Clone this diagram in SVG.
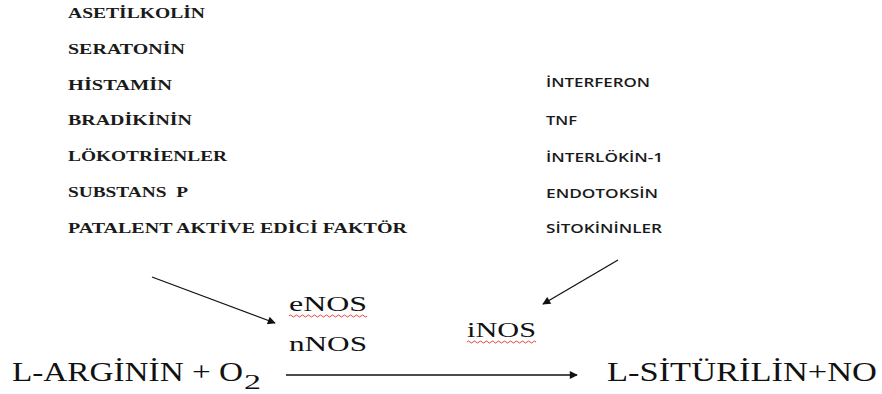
<svg xmlns="http://www.w3.org/2000/svg" width="882" height="394" viewBox="0 0 882 394">
<style>
.l{font-family:'Liberation Serif',serif;font-size:15px;font-weight:bold;fill:#1a1a1a}
.r{font-family:'Open Sans',sans-serif;font-size:12px;font-weight:600;fill:#1a1a1a}
.b{font-family:'Liberation Serif',serif;font-size:21px;fill:#111}
.big{font-family:'Liberation Serif',serif;font-size:27px;fill:#111}
.arr{stroke:#111;stroke-width:1.3;fill:none}
.sq{stroke:#e03030;stroke-width:0.9;fill:none}
</style>
<defs>
<marker id="ah" viewBox="0 0 10 10" refX="9" refY="5" markerWidth="9" markerHeight="8" markerUnits="userSpaceOnUse" orient="auto">
<path d="M0,0 L10,5 L0,10 z" fill="#111"/>
</marker>
</defs>
<g id="left-list">
<text class="l" x="68" y="18" textLength="137" lengthAdjust="spacingAndGlyphs">ASETİLKOLİN</text>
<text class="l" x="68" y="54" textLength="117" lengthAdjust="spacingAndGlyphs">SERATONİN</text>
<text class="l" x="68" y="90" textLength="104" lengthAdjust="spacingAndGlyphs">HİSTAMİN</text>
<text class="l" x="68" y="125" textLength="124" lengthAdjust="spacingAndGlyphs">BRADİKİNİN</text>
<text class="l" x="68" y="161" textLength="159" lengthAdjust="spacingAndGlyphs">LÖKOTRİENLER</text>
<text class="l" x="68" y="197" textLength="120" lengthAdjust="spacingAndGlyphs" xml:space="preserve">SUBSTANS  P</text>
<text class="l" x="68" y="233" textLength="339" lengthAdjust="spacingAndGlyphs">PATALENT AKTİVE EDİCİ FAKTÖR</text>
</g>
<g id="right-list">
<text class="r" x="546" y="87" textLength="104" lengthAdjust="spacingAndGlyphs">İNTERFERON</text>
<text class="r" x="546" y="125" textLength="31" lengthAdjust="spacingAndGlyphs">TNF</text>
<text class="r" x="546" y="162" textLength="117" lengthAdjust="spacingAndGlyphs">İNTERLÖKİN-1</text>
<text class="r" x="546" y="198" textLength="112" lengthAdjust="spacingAndGlyphs">ENDOTOKSİN</text>
<text class="r" x="546" y="233" textLength="116" lengthAdjust="spacingAndGlyphs">SİTOKİNİNLER</text>
</g>
<g id="enos">
<text class="b" x="289" y="311" textLength="78" lengthAdjust="spacingAndGlyphs">eNOS</text>
<path class="sq" d="M289,316 q1.5,-2 3,0 t3,0 t3,0 t3,0 t3,0 t3,0 t3,0 t3,0 t3,0 t3,0 t3,0 t3,0 t3,0 t3,0 t3,0 t3,0 t3,0 t3,0 t3,0 t3,0 t3,0 t3,0 t3,0 t3,0 t3,0 t3,0"/>
</g>
<g id="nnos">
<text class="b" x="289" y="351" textLength="78" lengthAdjust="spacingAndGlyphs">nNOS</text>
</g>
<g id="inos">
<text class="b" x="467" y="337" textLength="69" lengthAdjust="spacingAndGlyphs">iNOS</text>
<path class="sq" d="M467,342 q1.5,-2 3,0 t3,0 t3,0 t3,0 t3,0 t3,0 t3,0 t3,0 t3,0 t3,0 t3,0 t3,0 t3,0 t3,0 t3,0 t3,0 t3,0 t3,0 t3,0 t3,0 t3,0 t3,0 t3,0"/>
</g>
<g id="substrate">
<text class="big" x="12" y="381" textLength="231" lengthAdjust="spacingAndGlyphs">L-ARGİNİN + O</text>
<text class="big" x="244" y="389" textLength="17" lengthAdjust="spacingAndGlyphs" style="font-size:20px">2</text>
</g>
<g id="product">
<text class="big" x="607" y="381" textLength="270" lengthAdjust="spacingAndGlyphs">L-SİTÜRİLİN+NO</text>
</g>
<g id="connectors">
<line class="arr" x1="152" y1="277" x2="275" y2="323" marker-end="url(#ah)"/>
<line class="arr" x1="618" y1="260" x2="543" y2="304" marker-end="url(#ah)"/>
<line class="arr" x1="286" y1="375" x2="577" y2="375" marker-end="url(#ah)"/>
</g>
</svg>
